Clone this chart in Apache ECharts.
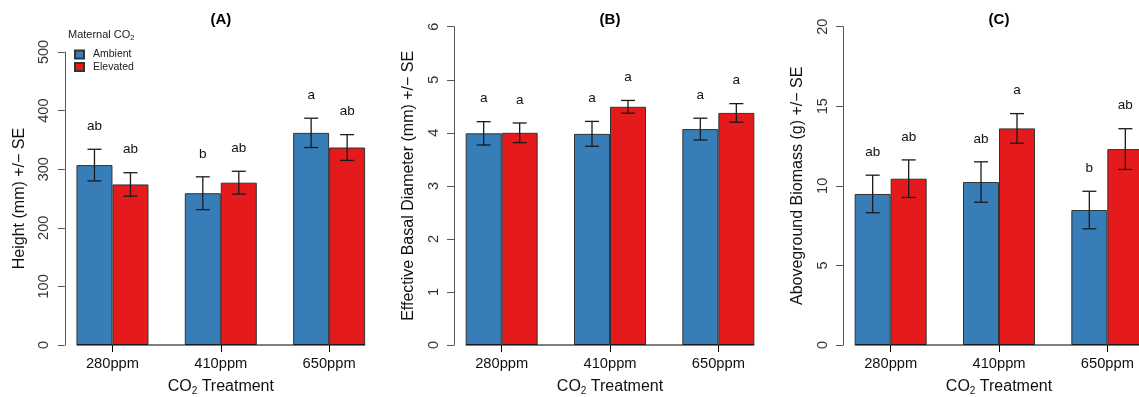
<!DOCTYPE html>
<html>
<head>
<meta charset="utf-8">
<script src="https://cdn.jsdelivr.net/npm/echarts@6/dist/echarts.min.js"></script>
<style>
  html, body { margin: 0; padding: 0; background: #fff; overflow: hidden; }
  #chart { width: 1139px; height: 397px; }
</style>
</head>
<body>
<div id="chart"></div>
<script>
// data
var categories = ['280ppm', '410ppm', '650ppm'];
var groups = ['Ambient', 'Elevated'];

var heightAmbient = [307, 259, 362];
var heightAmbientSE = [27, 28, 25];
var heightElevated = [274, 277, 337];
var heightElevatedSE = [20, 19.5, 22];
var heightLettersAmbient = ['ab', 'b', 'a'];
var heightLettersElevated = ['ab', 'ab', 'ab'];

var diameterAmbient = [3.99, 3.98, 4.07];
var diameterAmbientSE = [0.22, 0.235, 0.205];
var diameterElevated = [4.0, 4.49, 4.375];
var diameterElevatedSE = [0.185, 0.12, 0.175];
var diameterLettersAmbient = ['a', 'a', 'a'];
var diameterLettersElevated = ['a', 'a', 'a'];

var biomassAmbient = [9.49, 10.24, 8.48];
var biomassAmbientSE = [1.18, 1.27, 1.18];
var biomassElevated = [10.45, 13.61, 12.31];
var biomassElevatedSE = [1.18, 0.93, 1.28];
var biomassLettersAmbient = ['ab', 'ab', 'b'];
var biomassLettersElevated = ['ab', 'a', 'ab'];

var yTicksHeight = [0, 500, 100];
var yTicksDiameter = [0, 6, 1];
var yTicksBiomass = [0, 20, 5];

var colors = ['#377EB8', '#E41A1C'];
var font = 'Liberation Sans, Arial, Helvetica, sans-serif';
var barW = 36;

var panels = [
    { title: '(A)', yName: 'Height (mm) +/\u2212 SE', ticks: yTicksHeight,
      means: [heightAmbient, heightElevated], se: [heightAmbientSE, heightElevatedSE],
      letters: [heightLettersAmbient, heightLettersElevated], left: 58.3, top: 52 },
    { title: '(B)', yName: 'Effective Basal Diameter (mm) +/\u2212 SE', ticks: yTicksDiameter,
      means: [diameterAmbient, diameterElevated], se: [diameterAmbientSE, diameterElevatedSE],
      letters: [diameterLettersAmbient, diameterLettersElevated], left: 447.5, top: 26.7 },
    { title: '(C)', yName: 'Aboveground Biomass (g) +/\u2212 SE', ticks: yTicksBiomass,
      means: [biomassAmbient, biomassElevated], se: [biomassAmbientSE, biomassElevatedSE],
      letters: [biomassLettersAmbient, biomassLettersElevated], left: 836.5, top: 26.7 }
];

var grid = [], xAxis = [], yAxis = [], series = [], graphic = [];

function errRender(side, means, ses, letters) {
    return function (params, api) {
        var i = params.dataIndex;
        var m = means[i], s = ses[i];
        var c = api.coord([i, m]);
        var x = c[0] + side * barW / 2;
        var yt = api.coord([i, m + s])[1];
        var yb = api.coord([i, m - s])[1];
        var st = { stroke: '#1a1a1a', lineWidth: 1.3 };
        return {
            type: 'group',
            children: [
                { type: 'line', shape: { x1: x, y1: yt, x2: x, y2: yb }, style: st },
                { type: 'line', shape: { x1: x - 7, y1: yt, x2: x + 7, y2: yt }, style: st },
                { type: 'line', shape: { x1: x - 7, y1: yb, x2: x + 7, y2: yb }, style: st },
                { type: 'text', x: x, y: yt - 23,
                  style: { text: letters[i], font: '13.5px ' + font, fill: '#111',
                           align: 'center', verticalAlign: 'middle' } }
            ]
        };
    };
}

function baseRender(params, api) {
    var i = params.dataIndex;
    var c = api.coord([i, 0]);
    var band = api.size([1, 0])[0];
    var x1 = i === 0 ? c[0] - barW : c[0] - band / 2;
    var x2 = i === categories.length - 1 ? c[0] + barW : c[0] + band / 2;
    return { type: 'line', shape: { x1: x1, y1: c[1], x2: x2, y2: c[1] },
             style: { stroke: '#000', lineWidth: 1.2 } };
}

panels.forEach(function (p, k) {
    grid.push({ left: p.left, top: p.top, width: 325, bottom: 52,
                outerBoundsMode: 'none', containLabel: false });
    xAxis.push({
        type: 'category', gridIndex: k, data: categories,
        axisLine: { show: false },
        axisTick: { show: true, alignWithLabel: true, length: 7, lineStyle: { color: '#000' } },
        axisLabel: { margin: 11, fontSize: 14.7, color: '#111', fontFamily: font },
        name: 'CO{s|2} Treatment', nameLocation: 'middle', nameGap: 33,
        nameTextStyle: { fontSize: 16, color: '#111', fontFamily: font,
            rich: { s: { fontSize: 10, fontFamily: font, color: '#111', padding: [8, 0, 0, 0] } } }
    });
    yAxis.push({
        type: 'value', gridIndex: k, min: p.ticks[0], max: p.ticks[1], interval: p.ticks[2],
        offset: -6.5,
        splitLine: { show: false },
        axisLine: { show: true, lineStyle: { color: '#555', width: 1 } },
        axisTick: { show: true, length: 7, lineStyle: { color: '#555' } },
        axisLabel: { rotate: 90, margin: 13, fontSize: 14.5, color: '#333', fontFamily: font },
        name: p.yName, nameLocation: 'middle', nameGap: 37,
        nameTextStyle: { fontSize: 16, color: '#111', fontFamily: font }
    });
    graphic.push({ type: 'text', x: p.left + 162.5, y: 20,
        style: { text: p.title, font: 'bold 15px ' + font, fill: '#000', align: 'center', verticalAlign: 'middle' } });
    groups.forEach(function (g, j) {
        series.push({
            name: g, type: 'bar', xAxisIndex: k, yAxisIndex: k,
            data: p.means[j], barWidth: barW, barGap: '0%',
            itemStyle: { color: colors[j], borderColor: '#333', borderWidth: 1 },
            silent: true, z: 2
        });
    });
    series.push({ type: 'custom', xAxisIndex: k, yAxisIndex: k, data: [0, 1, 2],
                  renderItem: baseRender, silent: true, z: 3 });
    groups.forEach(function (g, j) {
        series.push({
            type: 'custom', xAxisIndex: k, yAxisIndex: k, silent: true, z: 4,
            data: p.means[j].map(function (v, i) { return [i, v]; }),
            renderItem: errRender(j === 0 ? -1 : 1, p.means[j], p.se[j], p.letters[j])
        });
    });
});

graphic.push({ type: 'text', x: 68, y: 35,
    style: { text: 'Maternal CO{s|2}', font: '11px ' + font, fill: '#222', verticalAlign: 'middle',
             rich: { s: { fontSize: 7.5, fontFamily: font, fill: '#222', padding: [5, 0, 0, 0] } } } });

var option = {
    backgroundColor: '#fff',
    animation: false,
    textStyle: { fontFamily: font },
    grid: grid,
    xAxis: xAxis,
    yAxis: yAxis,
    legend: {
        data: groups, orient: 'vertical', left: 69, top: 44,
        itemWidth: 9, itemHeight: 8, itemGap: 1.5, icon: 'rect',
        textStyle: { fontSize: 10.5, color: '#222', fontFamily: font, padding: [0, 0, 0, 4] }
    },
    graphic: graphic,
    series: series
};

var myChart = echarts.init(document.getElementById('chart'));
myChart.setOption(option);
</script>
</body>
</html>
